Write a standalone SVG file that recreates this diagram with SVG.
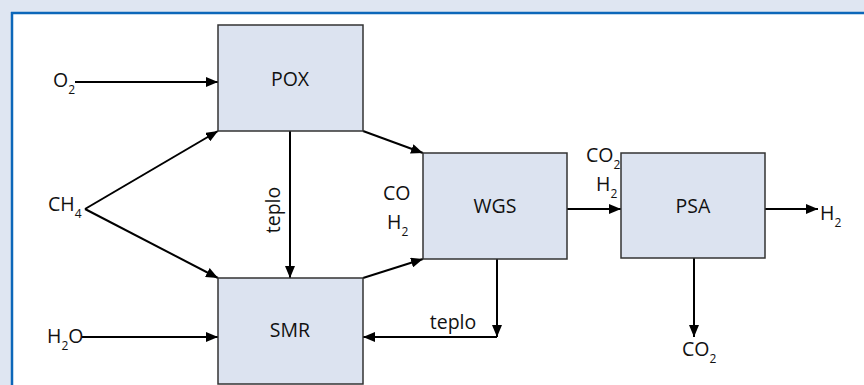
<svg xmlns="http://www.w3.org/2000/svg" width="864" height="385" viewBox="0 0 864 385">
  <defs>
    <marker id="arrow" markerUnits="userSpaceOnUse" markerWidth="12" markerHeight="10" refX="12" refY="5" orient="auto">
      <path d="M0,0 L12,5 L0,10 z" fill="#000"/>
    </marker>
    <style>
      .box { fill: #dce3f0; stroke: #333; stroke-width: 1.5; }
      .lbl { font-family: "Open Sans", "Liberation Sans", sans-serif; font-size: 19.5px; fill: #111; }
      .mid { text-anchor: middle; }
      .sub { font-size: 12px; }
      .flow { stroke: #000; stroke-width: 2; fill: none; }
      .arr { marker-end: url(#arrow); }
    </style>
  </defs>

  <!-- frame -->
  <rect x="0" y="0" width="864" height="385" fill="#dfe6f2"/>
  <rect x="12" y="13" width="852" height="372" fill="#ffffff"/>
  <line x1="11" y1="13" x2="864" y2="13" stroke="#0c67b9" stroke-width="2.5"/>
  <line x1="12" y1="12" x2="12" y2="385" stroke="#0c67b9" stroke-width="2.5"/>

  <g id="connectors">
    <line class="flow arr" x1="75" y1="82" x2="218" y2="82"/>
    <line class="flow arr" x1="85" y1="209" x2="218" y2="131"/>
    <line class="flow arr" x1="85" y1="209" x2="218" y2="278"/>
    <line class="flow arr" x1="82" y1="337" x2="218" y2="337"/>
    <line class="flow arr" x1="290" y1="131" x2="290" y2="278"/>
    <line class="flow arr" x1="363" y1="131" x2="423" y2="153"/>
    <line class="flow arr" x1="363" y1="278" x2="423" y2="259"/>
    <line class="flow arr" x1="567" y1="209" x2="621" y2="209"/>
    <line class="flow arr" x1="765" y1="209" x2="818" y2="209"/>
    <line class="flow arr" x1="694" y1="258" x2="694" y2="337"/>
    <line class="flow arr" x1="497" y1="259" x2="497" y2="337"/>
    <line class="flow arr" x1="497" y1="337" x2="363" y2="337"/>
  </g>

  <g id="POX">
    <rect class="box" x="218" y="25" width="145" height="106"/>
    <text class="lbl mid" x="290" y="86">POX</text>
  </g>
  <g id="SMR">
    <rect class="box" x="218" y="278" width="145" height="106"/>
    <text class="lbl mid" x="290" y="337">SMR</text>
  </g>
  <g id="WGS">
    <rect class="box" x="423" y="153" width="144" height="106"/>
    <text class="lbl mid" x="495" y="213">WGS</text>
  </g>
  <g id="PSA">
    <rect class="box" x="621" y="153" width="144" height="105"/>
    <text class="lbl mid" x="693" y="213">PSA</text>
  </g>

  <g id="labels">
    <text class="lbl" x="53" y="87">O<tspan class="sub" dy="7">2</tspan></text>
    <text class="lbl" x="48" y="211">CH<tspan class="sub" dy="7">4</tspan></text>
    <text class="lbl" x="47" y="343">H<tspan class="sub" dy="7">2</tspan><tspan dy="-7">O</tspan></text>
    <text class="lbl mid" transform="translate(280,210) rotate(-90)">teplo</text>
    <text class="lbl" x="383" y="200">CO</text>
    <text class="lbl" x="387" y="229">H<tspan class="sub" dy="7">2</tspan></text>
    <text class="lbl" x="586" y="162">CO<tspan class="sub" dy="7">2</tspan></text>
    <text class="lbl" x="596" y="191">H<tspan class="sub" dy="7">2</tspan></text>
    <text class="lbl" x="820" y="220">H<tspan class="sub" dy="7">2</tspan></text>
    <text class="lbl" x="682" y="356">CO<tspan class="sub" dy="7">2</tspan></text>
    <text class="lbl mid" x="453" y="329">teplo</text>
  </g>
</svg>
